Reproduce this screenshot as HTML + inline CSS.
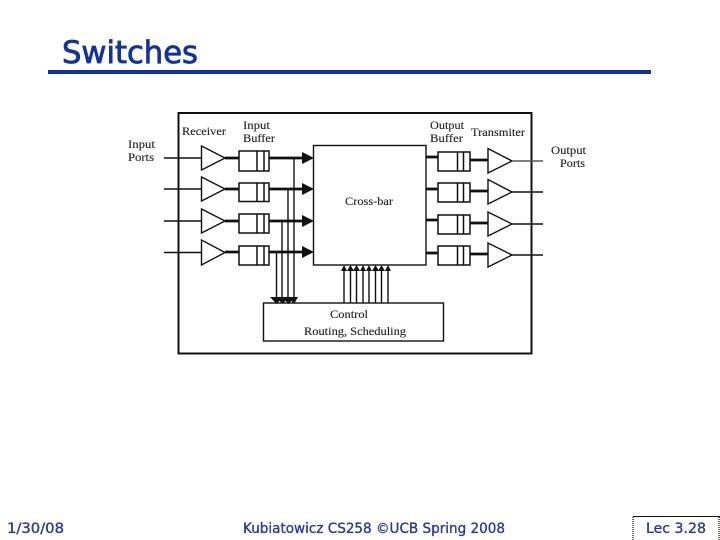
<!DOCTYPE html>
<html>
<head>
<meta charset="utf-8">
<style>
html,body{margin:0;padding:0;background:#fff;width:720px;height:540px;overflow:hidden}
svg{display:block}
.d{font-family:"Liberation Serif",serif;font-size:12px;fill:#222;stroke:#222;stroke-width:.12}
.f{font-family:"DejaVu Sans",sans-serif;font-size:14px;fill:#2b3a9c;stroke:#2b3a9c;stroke-width:.35}
</style>
</head>
<body>
<svg width="720" height="540" viewBox="0 0 720 540" xmlns="http://www.w3.org/2000/svg">
<text x="62" y="63" font-family="DejaVu Sans, sans-serif" font-size="31" fill="#12329c" stroke="#12329c" stroke-width=".8" textLength="136" lengthAdjust="spacingAndGlyphs">Switches</text>
<rect x="48" y="70" width="603" height="4" fill="#12329c"/>

<g fill="none" stroke="#111">
<rect x="178.500" y="113" width="353" height="240.500" stroke-width="2"/>
<rect x="313.500" y="145.500" width="112.500" height="119.500" stroke-width="1.400"/>
<rect x="263.500" y="303" width="180" height="38" stroke-width="1.400"/>

<g stroke-width="1.400">
<path d="M201.500 146V170L225 158Z"/>
<path d="M201.500 177V201L225 189Z"/>
<path d="M201.500 209V233L225 221Z"/>
<path d="M201.500 240V265L225 252.500Z"/>
<path d="M488 148.500V173L512 161Z"/>
<path d="M488 179.500V204L512 192Z"/>
<path d="M488 212V236L512 224Z"/>
<path d="M488 243V267L512 255Z"/>
</g>

<g stroke-width="1.500">
<rect x="239" y="151" width="30" height="20"/><path d="M257 151V171M264 151V171"/>
<rect x="239" y="183" width="30" height="18.500"/><path d="M257 183V201M264 183V201"/>
<rect x="239" y="214" width="30" height="19"/><path d="M257 214V233M264 214V233"/>
<rect x="239" y="246" width="30" height="19"/><path d="M257 246V265M264 246V265"/>
<rect x="438" y="152" width="32" height="19"/><path d="M457.500 152V171M463.500 152V171"/>
<rect x="438" y="183" width="32" height="19"/><path d="M457.500 183V202M463.500 183V202"/>
<rect x="438" y="215" width="32" height="19"/><path d="M457.500 215V234M463.500 215V234"/>
<rect x="438" y="246" width="32" height="19"/><path d="M457.500 246V265M463.500 246V265"/>
</g>

<g stroke-width="1.400">
<path d="M164 158H201"/>
<path d="M164 189H201"/>
<path d="M164 221H201"/>
<path d="M164 252.500H201"/>
<path d="M512 161H543" stroke="#555"/>
<path d="M512 192H543"/>
<path d="M512 224H543"/>
<path d="M512 255H543"/>
</g>

<g stroke-width="2.800">
<path d="M225 158H239M269 158H303"/>
<path d="M225 189H239M269 189H303"/>
<path d="M225 221H239M269 221H303"/>
<path d="M225 252H239M269 252H303"/>
<path d="M426 157H438M470 160H488"/>
<path d="M426 189H438M470 191H488"/>
<path d="M426 220H438M470 223H488"/>
<path d="M426 253H438M470 254H488"/>
</g>

<g stroke-width="1.400">
<path d="M294 158V298M288 189V298M282 221V298M276.500 252V298"/>
<path d="M344 270V303M350.500 270V303M356.500 270V303M363 270V303M369 270V303M375.500 270V303M381.500 270V303M388 270V303"/>
</g>
</g>

<g fill="#111">
<path d="M302 152L314 158L302 164Z"/>
<path d="M302 183L314 189L302 195Z"/>
<path d="M302 215L314 221L302 227Z"/>
<path d="M302 246L314 252L302 258Z"/>
<path d="M270 297H283L276.500 304Z"/>
<path d="M276 297H289L282.500 304Z"/>
<path d="M282 297H295L288.500 304Z"/>
<path d="M288 297H298L294 304Z"/>
<path d="M341 271L344 265L347 271Z"/>
<path d="M347 271L350.500 265L354 271Z"/>
<path d="M353 271L356.500 265L360 271Z"/>
<path d="M360 271L363 265L366 271Z"/>
<path d="M366 271L369 265L372 271Z"/>
<path d="M372 271L375.500 265L379 271Z"/>
<path d="M378 271L381.500 265L385 271Z"/>
<path d="M385 271L388 265L391 271Z"/>
</g>

<g>
<text class="d" x="128" y="148" textLength="27" lengthAdjust="spacingAndGlyphs">Input</text>
<text class="d" x="128" y="161" textLength="26" lengthAdjust="spacingAndGlyphs">Ports</text>
<text class="d" x="182" y="135" textLength="44" lengthAdjust="spacingAndGlyphs">Receiver</text>
<text class="d" x="243" y="129" textLength="27" lengthAdjust="spacingAndGlyphs">Input</text>
<text class="d" x="243" y="142" textLength="32" lengthAdjust="spacingAndGlyphs">Buffer</text>
<text class="d" x="430" y="129" textLength="34" lengthAdjust="spacingAndGlyphs">Output</text>
<text class="d" x="430" y="142" textLength="33" lengthAdjust="spacingAndGlyphs">Buffer</text>
<text class="d" x="471" y="136" textLength="54" lengthAdjust="spacingAndGlyphs">Transmiter</text>
<text class="d" x="551" y="154" textLength="35" lengthAdjust="spacingAndGlyphs">Output</text>
<text class="d" x="560" y="167" textLength="25" lengthAdjust="spacingAndGlyphs">Ports</text>
<text class="d" x="345" y="205" textLength="48" lengthAdjust="spacingAndGlyphs">Cross-bar</text>
<text class="d" x="330" y="318" textLength="38" lengthAdjust="spacingAndGlyphs">Control</text>
<text class="d" x="304" y="335" textLength="102" lengthAdjust="spacingAndGlyphs">Routing, Scheduling</text>
</g>

<text class="f" x="7" y="533" textLength="57" lengthAdjust="spacingAndGlyphs">1/30/08</text>
<text class="f" x="243" y="533" textLength="262" lengthAdjust="spacingAndGlyphs">Kubiatowicz CS258 ©UCB Spring 2008</text>
<text class="f" x="646" y="533" textLength="60" lengthAdjust="spacingAndGlyphs">Lec 3.28</text>

<path d="M633 516.500H720" stroke="#111" stroke-width="1"/>
<path d="M633 517V540" stroke="#333" stroke-width="1.500" stroke-dasharray="1 1"/>
<path d="M719 517V540" stroke="#333" stroke-width="1.500" stroke-dasharray="1 1"/>
</svg>
</body>
</html>
